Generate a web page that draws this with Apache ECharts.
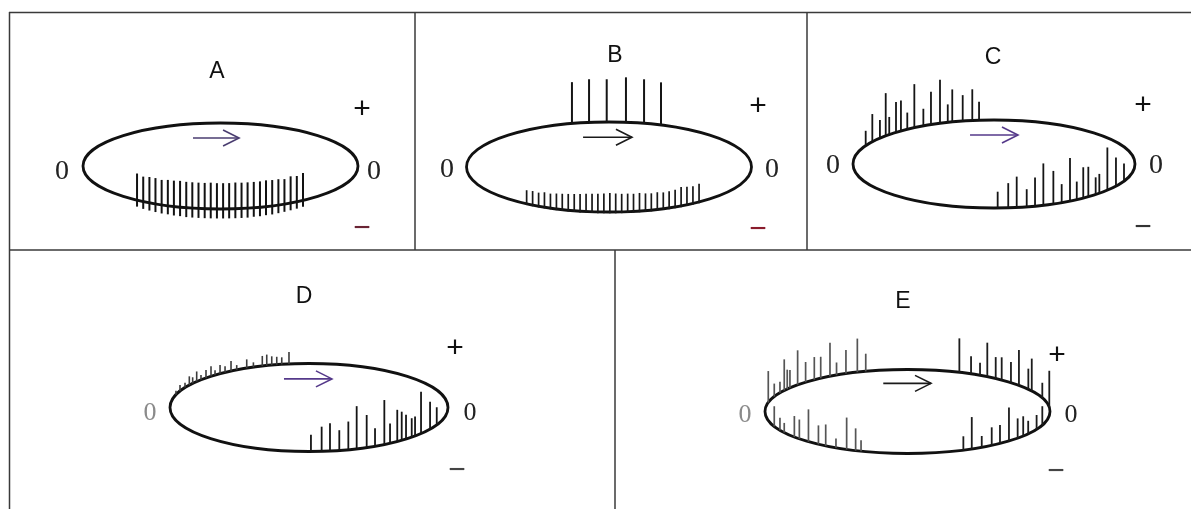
<!DOCTYPE html>
<html>
<head>
<meta charset="utf-8">
<script src="https://cdn.jsdelivr.net/npm/echarts@6/dist/echarts.min.js"></script>
<style>
  html, body { margin: 0; padding: 0; background: #fff; }
  #chart { width: 1191px; height: 509px; }
</style>
</head>
<body>
<div id="chart"></div>
<script>
// Positions t run along the ellipse width (-1 … 1); lengths are in units of the ellipse half-height.
const panelNames = ['A', 'B', 'C', 'D', 'E'];

// A: spikes crossing the lower arc
const aCrossPos  = [-0.607, -0.562, -0.517, -0.473, -0.428, -0.383, -0.339, -0.294, -0.249, -0.205, -0.160, -0.115, -0.071, -0.026,
                    0.019, 0.063, 0.108, 0.153, 0.197, 0.242, 0.287, 0.331, 0.376, 0.421, 0.465, 0.510, 0.555, 0.600];
const aCrossUp   = [0.62, 0.58, 0.60, 0.60, 0.58, 0.60, 0.60, 0.61, 0.60, 0.60, 0.60, 0.60, 0.61, 0.60,
                    0.60, 0.60, 0.61, 0.60, 0.60, 0.60, 0.60, 0.61, 0.60, 0.60, 0.58, 0.62, 0.60, 0.64];
const aCrossDown = [0.15, 0.17, 0.18, 0.19, 0.20, 0.20, 0.21, 0.21, 0.22, 0.22, 0.22, 0.22, 0.22, 0.22,
                    0.22, 0.22, 0.22, 0.22, 0.22, 0.21, 0.21, 0.20, 0.20, 0.19, 0.18, 0.17, 0.16, 0.15];

// B: tall spikes on the upper arc, dense short spikes on the lower arc
const bTopPos = [-0.26, -0.14, -0.016, 0.119, 0.246, 0.365];
const bTopLen = [0.92, 0.96, 0.95, 1.00, 0.98, 0.95];
const bBotPos = [-0.578, -0.536, -0.494, -0.453, -0.411, -0.369, -0.328, -0.286, -0.244, -0.203, -0.161, -0.119, -0.078, -0.036, 0.006,
                 0.047, 0.089, 0.131, 0.172, 0.214, 0.256, 0.297, 0.339, 0.381, 0.422, 0.464, 0.506, 0.547, 0.589, 0.632];
const bBotLen = [0.30, 0.31, 0.30, 0.33, 0.32, 0.34, 0.35, 0.36, 0.37, 0.38, 0.39, 0.40, 0.40, 0.41, 0.42,
                 0.41, 0.40, 0.40, 0.39, 0.40, 0.38, 0.37, 0.38, 0.36, 0.37, 0.38, 0.42, 0.40, 0.38, 0.40];

// C: irregular spikes on the left of the upper arc and the right of the lower arc
const cTopPos = [-0.910, -0.863, -0.809, -0.768, -0.743, -0.695, -0.660, -0.615, -0.565, -0.501, -0.447, -0.383, -0.328, -0.296, -0.222, -0.154, -0.106];
const cTopLen = [0.34, 0.63, 0.41, 0.97, 0.40, 0.69, 0.69, 0.38, 0.99, 0.39, 0.75, 0.99, 0.41, 0.74, 0.59, 0.71, 0.42];
const cBotPos = [0.026, 0.101, 0.161, 0.232, 0.291, 0.350, 0.421, 0.480, 0.539, 0.587, 0.633, 0.669, 0.721, 0.747, 0.804, 0.865, 0.922];
const cBotLen = [0.37, 0.56, 0.70, 0.40, 0.65, 0.95, 0.75, 0.42, 0.98, 0.41, 0.70, 0.68, 0.39, 0.44, 0.97, 0.65, 0.40];

// D: small spikes on the upper arc, large ones on the lower arc
const dTopPos = [-0.957, -0.928, -0.892, -0.861, -0.837, -0.808, -0.777, -0.741, -0.705, -0.676, -0.640, -0.604, -0.561, -0.520,
                 -0.448, -0.400, -0.336, -0.304, -0.268, -0.232, -0.196, -0.144];
const dTopLen = [0.09, 0.14, 0.11, 0.20, 0.14, 0.23, 0.11, 0.18, 0.23, 0.11, 0.20, 0.14, 0.23, 0.11,
                 0.20, 0.11, 0.23, 0.25, 0.20, 0.18, 0.16, 0.27];
const dBotPos = [0.014, 0.091, 0.151, 0.218, 0.283, 0.343, 0.415, 0.475, 0.542, 0.583, 0.635, 0.667, 0.698, 0.739, 0.763, 0.806, 0.871, 0.919];
const dBotLen = [0.38, 0.56, 0.63, 0.46, 0.64, 0.97, 0.74, 0.41, 1.01, 0.45, 0.72, 0.65, 0.55, 0.43, 0.44, 0.95, 0.62, 0.40];

// E: spikes at both ends of both arcs
const eTopLeftPos  = [-0.977, -0.935, -0.895, -0.865, -0.844, -0.825, -0.771, -0.715, -0.654, -0.609, -0.544, -0.498, -0.432, -0.352, -0.293];
const eTopLeftLen  = [0.75, 0.31, 0.26, 0.74, 0.46, 0.42, 0.82, 0.48, 0.54, 0.51, 0.80, 0.30, 0.56, 0.80, 0.42];
const eTopRightPos = [0.364, 0.446, 0.509, 0.560, 0.619, 0.661, 0.726, 0.782, 0.848, 0.872, 0.946, 0.995];
const eTopRightLen = [0.81, 0.42, 0.30, 0.81, 0.51, 0.54, 0.49, 0.84, 0.49, 0.77, 0.36, 0.87];
const eBotLeftPos  = [-0.935, -0.895, -0.865, -0.794, -0.759, -0.695, -0.625, -0.574, -0.502, -0.427, -0.364, -0.326];
const eBotLeftLen  = [0.48, 0.30, 0.23, 0.50, 0.46, 0.77, 0.45, 0.51, 0.22, 0.76, 0.53, 0.26];
const eBotRightPos = [0.392, 0.451, 0.521, 0.591, 0.649, 0.712, 0.773, 0.812, 0.847, 0.906, 0.946];
const eBotRightLen = [0.33, 0.76, 0.27, 0.43, 0.44, 0.80, 0.47, 0.47, 0.31, 0.34, 0.45];

// ---- layout (pixels) ----
const layout = {
  A: { box: [83, 123, 275, 86],    title: [217, 72],  plus: [362, 110], zeroL: [62, 172],  zeroR: [374, 172],  minus: [362, 229], zeroSize: 28, minusColor: '#6a2434', arrowColor: '#4a3d70', zeroLColor: '#222' },
  B: { box: [466.5, 122, 285, 90], title: [615, 56],  plus: [758, 107], zeroL: [447, 170], zeroR: [772, 170],  minus: [758, 230], zeroSize: 28, minusColor: '#8a1c2c', arrowColor: '#1a1a1a', zeroLColor: '#222' },
  C: { box: [853, 120, 282, 88],   title: [993, 58],  plus: [1143, 106], zeroL: [833, 166], zeroR: [1156, 166], minus: [1143, 228], zeroSize: 28, minusColor: '#333', arrowColor: '#55398a', zeroLColor: '#222' },
  D: { box: [170, 363.5, 278, 88], title: [304, 297], plus: [455, 349], zeroL: [150, 413], zeroR: [470, 413],  minus: [457, 471], zeroSize: 26, minusColor: '#444', arrowColor: '#55398a', zeroLColor: '#8a8a8a' },
  E: { box: [765, 369.5, 285, 84], title: [903, 302], plus: [1057, 356], zeroL: [745, 415], zeroR: [1071, 415], minus: [1056, 472], zeroSize: 26, minusColor: '#444', arrowColor: '#1a1a1a', zeroLColor: '#8a8a8a' }
};

// direction arrow inside each ellipse: [t start, t end, height]
const arrowSpan = {
  A: [-0.20, 0.135, 0.65],
  B: [-0.182, 0.161, 0.66],
  C: [-0.17, 0.17, 0.66],
  D: [-0.18, 0.165, 0.65],
  E: [-0.17, 0.165, 0.67]
};

// ---- build spike items: [t, lengthUp, side(+1 upper arc, -1 lower arc), depthBelow] ----
function spikes(pos, len, side, depth) {
  return pos.map((t, i) => [t, len[i], side, Array.isArray(depth) ? depth[i] : depth]);
}

const spikeSets = {
  A: [{ data: spikes(aCrossPos, aCrossUp, -1, aCrossDown), color: '#121212', width: 2 }],
  B: [{ data: spikes(bTopPos, bTopLen, 1, 0), color: '#151515', width: 2 }],
  C: [{ data: spikes(cTopPos, cTopLen, 1, 0), color: '#151515', width: 1.8 },
      { data: spikes(cBotPos, cBotLen, -1, 0), color: '#151515', width: 1.8 }],
  D: [{ data: spikes(dTopPos, dTopLen, 1, 0), color: '#3c3c3c', width: 1.6 },
      { data: spikes(dBotPos, dBotLen, -1, 0), color: '#151515', width: 1.8 }],
  E: [{ data: spikes(eTopLeftPos, eTopLeftLen, 1, 0), color: '#555', width: 1.7 },
      { data: spikes(eTopRightPos, eTopRightLen, 1, 0), color: '#1c1c1c', width: 1.8 },
      { data: spikes(eBotLeftPos, eBotLeftLen, -1, 0), color: '#555', width: 1.7 },
      { data: spikes(eBotRightPos, eBotRightLen, -1, 0), color: '#1c1c1c', width: 1.8 }]
};
spikeSets.B.push({ data: spikes(bBotPos, bBotLen, -1, 0.03), color: '#181818', width: 1.7 });

const grids = [], xAxes = [], yAxes = [], series = [];

panelNames.forEach((name, gi) => {
  const L = layout[name];
  grids.push({ left: L.box[0], top: L.box[1], width: L.box[2], height: L.box[3], containLabel: false });
  xAxes.push({ type: 'value', gridIndex: gi, min: -1, max: 1, show: false });
  yAxes.push({ type: 'value', gridIndex: gi, min: -1, max: 1, show: false });

  // ellipse outline filling the grid's value range
  series.push({
    type: 'custom', xAxisIndex: gi, yAxisIndex: gi, clip: false, silent: true,
    data: [[0, 0, 1, 1]],
    renderItem: (params, api) => {
      const c = api.coord([api.value(0), api.value(1)]);
      const s = api.size([api.value(2), api.value(3)]);
      return {
        type: 'ellipse',
        shape: { cx: c[0], cy: c[1], rx: s[0], ry: s[1] },
        style: { fill: null, stroke: '#111', lineWidth: 2.8 }
      };
    }
  });

  // vertical spikes rising from the outline
  spikeSets[name].forEach(set => {
    series.push({
      type: 'custom', xAxisIndex: gi, yAxisIndex: gi, clip: false, silent: true,
      data: set.data,
      renderItem: (params, api) => {
        const t = api.value(0), len = api.value(1), side = api.value(2), depth = api.value(3);
        const base = side * Math.sqrt(Math.max(0, 1 - t * t));
        const p1 = api.coord([t, base - depth]);
        const p2 = api.coord([t, base + len]);
        return {
          type: 'line',
          shape: { x1: p1[0], y1: p1[1], x2: p2[0], y2: p2[1] },
          style: { stroke: set.color, lineWidth: set.width }
        };
      }
    });
  });

  // direction-of-travel arrow
  series.push({
    type: 'custom', xAxisIndex: gi, yAxisIndex: gi, clip: false, silent: true,
    data: [arrowSpan[name]],
    renderItem: (params, api) => {
      const a = api.coord([api.value(0), api.value(2)]);
      const b = api.coord([api.value(1), api.value(2)]);
      const style = { stroke: L.arrowColor, lineWidth: 1.6, fill: null };
      return {
        type: 'group',
        children: [
          { type: 'line', shape: { x1: a[0], y1: a[1], x2: b[0], y2: b[1] }, style },
          { type: 'polyline', shape: { points: [[b[0] - 16, b[1] - 8], [b[0], b[1]], [b[0] - 16, b[1] + 8]] }, style }
        ]
      };
    }
  });
});

// ---- frame lines and text ----
const frame = '#3a3a3a';
function hline(x1, x2, y) { return { type: 'line', shape: { x1, y1: y, x2, y2: y }, style: { stroke: frame, lineWidth: 1.5 }, silent: true }; }
function vline(x, y1, y2) { return { type: 'line', shape: { x1: x, y1, x2: x, y2 }, style: { stroke: frame, lineWidth: 1.5 }, silent: true }; }
function label(text, pos, font, fill) {
  return {
    type: 'text', x: pos[0], y: pos[1], silent: true,
    style: { text, font, fill, align: 'center', verticalAlign: 'middle', textAlign: 'center', textVerticalAlign: 'middle' }
  };
}

const graphics = [
  hline(9, 1191, 12.5), hline(9, 1191, 250), vline(9.5, 12, 509),
  vline(415, 12, 250), vline(807, 12, 250), vline(615, 250, 509)
];

panelNames.forEach(name => {
  const L = layout[name];
  graphics.push(label(name, L.title, '23px "Liberation Sans", Arial, sans-serif', '#111'));
  graphics.push(label('+', L.plus, '30px "Liberation Sans", Arial, sans-serif', '#111'));
  graphics.push(label('0', L.zeroL, L.zeroSize + 'px "Liberation Serif", "Times New Roman", serif', L.zeroLColor));
  graphics.push(label('0', L.zeroR, L.zeroSize + 'px "Liberation Serif", "Times New Roman", serif', '#222'));
  graphics.push(label('\u2212', L.minus, '30px "Liberation Sans", Arial, sans-serif', L.minusColor));
});

const chart = echarts.init(document.getElementById('chart'), null, { renderer: 'canvas' });
chart.setOption({
  animation: false,
  backgroundColor: '#ffffff',
  grid: grids,
  xAxis: xAxes,
  yAxis: yAxes,
  series: series,
  graphic: { elements: graphics }
});
</script>
</body>
</html>
